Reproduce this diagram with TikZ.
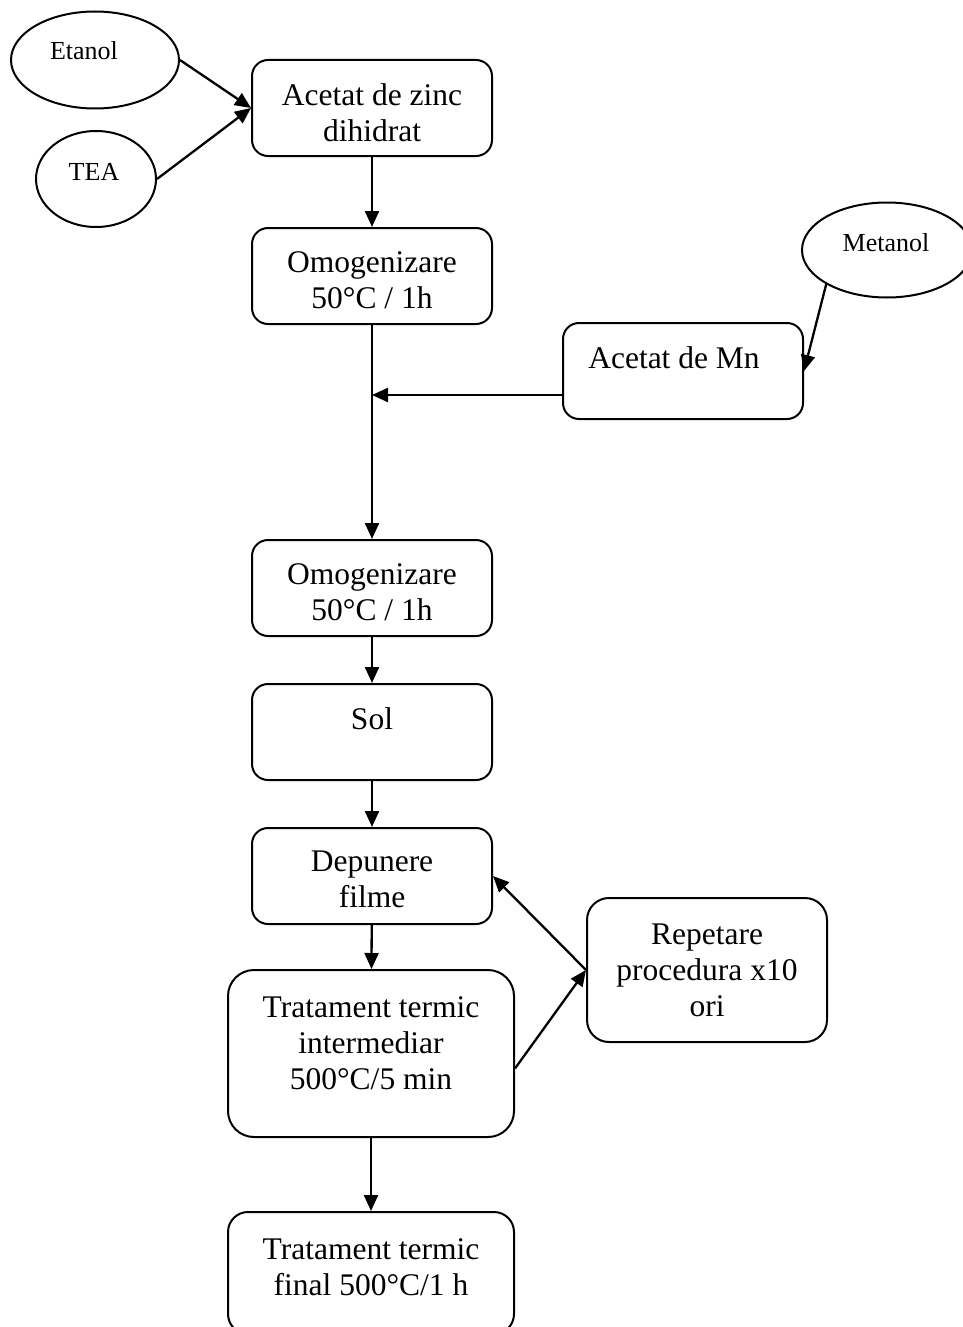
\documentclass[tikz,border=0pt]{standalone}
\usepackage{fontspec}
\setmainfont{Liberation Serif}
\usepackage{tikz}
\usetikzlibrary{positioning, arrows.meta, shapes.geometric}

\begin{document}
\begin{tikzpicture}[
  x=1pt, y=-1pt,
  box/.style={draw, line width=2pt, minimum width=240pt, minimum height=96pt, inner sep=0pt, rounded corners=16pt},
  oval/.style={draw, ellipse, line width=2pt, inner sep=0pt},
  txt/.style={align=center, inner sep=0pt, font=\fontsize{31.5}{36}\selectfont},
  small/.style={inner sep=0pt, anchor=base, font=\fontsize{26}{30}\selectfont},
  arrow/.style={-{Triangle[length=16pt,width=14pt]}, line width=2.3pt},
]
\useasboundingbox (0,0) rectangle (962,1327);

% Reagents
\node[oval, minimum width=168pt, minimum height=97pt] (etan) at (95,60) {};
\node[small] (etant) at (84,60) {Etanol};
\node[oval, minimum width=120pt, minimum height=96pt] (tea) at (96,179) {};
\node[small] (teat) at (94,180) {TEA};
\node[oval, minimum width=170pt, minimum height=95pt] (meta) at (887,250) {};
\node[small] (metat) at (886,251) {Metanol};

% Main line
\node[box] (zinc) at (372,108) {};
\node[txt, below=24pt of zinc.north] (zinct) {Acetat de zinc\\dihidrat};
\node[box] (omog1) at (372,276) {};
\node[txt, below=24pt of omog1.north] (omog1t) {Omogenizare\\50°C / 1h};
\node[box] (omog2) at (372,588) {};
\node[txt, below=24pt of omog2.north] (omog2t) {Omogenizare\\50°C / 1h};
\node[box] (sol) at (372,732) {};
\node[txt, below=24pt of sol.north] (solt) {Sol};
\node[box] (dep) at (372,876) {};
\node[txt, below=24pt of dep.north] (dept) {Depunere\\filme};
\node[box, minimum width=286pt, minimum height=167pt, rounded corners=26pt] (inter) at (371,1053.5) {};
\node[txt, below=27pt of inter.north] (intert) {Tratament termic\\intermediar\\500°C/5 min};
\node[box, minimum width=286pt, minimum height=122pt, rounded corners=20pt] (final) at (371,1273) {};
\node[txt, below=27pt of final.north] (finalt) {Tratament termic\\final 500°C/1 h};

% Side boxes
\node[box] (mn) at (683,371) {};
\node[txt, below=24pt of mn.north, xshift=-9pt] (mnt) {Acetat de Mn};
\node[box, minimum height=144pt, rounded corners=22pt] (rep) at (707,970) {};
\node[txt, below=27pt of rep.north] (rept) {Repetare\\procedura x10\\ori};

% Connectors
\coordinate (join) at (372,395);
\draw[arrow] (etan.east) -- (zinc.west);
\draw[arrow] (tea.east) -- (zinc.west);
\draw[arrow] (zinc) -- (omog1);
\draw[arrow] (omog1) -- (omog2);
\draw[arrow] (mn.west |- join) -- (join);
\draw[arrow] (meta.south west) -- (mn.east);
\draw[arrow] (omog2) -- (sol);
\draw[arrow] (sol) -- (dep);
\draw[arrow] (dep) -- (inter);
\draw[arrow] (inter) -- (final);
\draw[arrow] ([yshift=-15pt]inter.east) -- (rep.west);
\draw[arrow] (rep.west) -- (dep.east);
\end{tikzpicture}
\end{document}
